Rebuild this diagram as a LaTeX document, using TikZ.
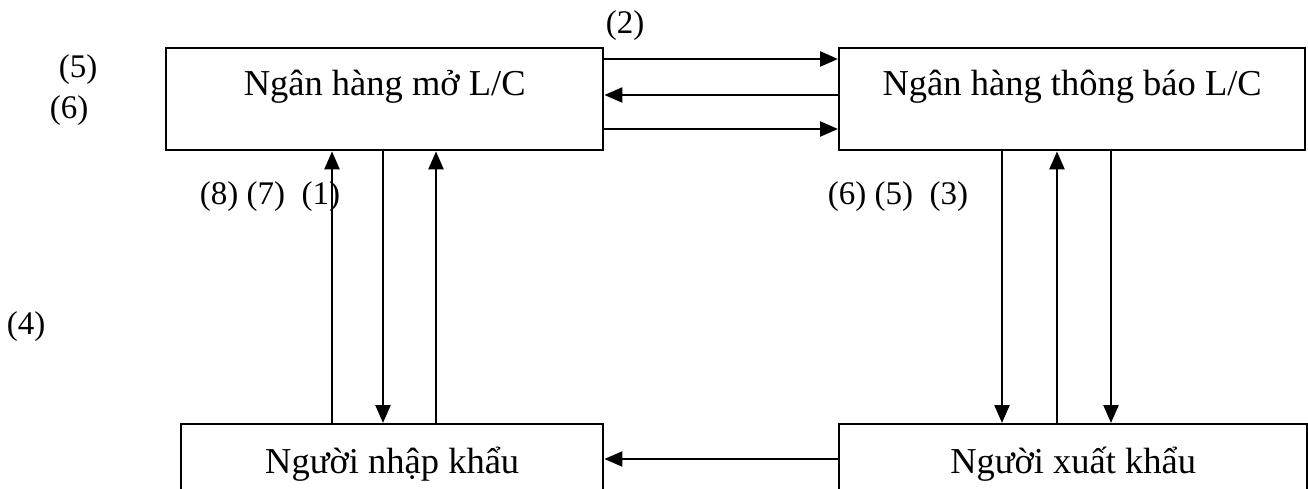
\documentclass[tikz,border=0pt]{standalone}
\usepackage{fontspec}
\setmainfont{Liberation Serif}
\usetikzlibrary{arrows.meta}
\begin{document}
\begin{tikzpicture}[x=1pt,y=-1pt,
  every node/.style={inner sep=0pt},
  box/.style={draw, line width=2.4pt, anchor=north west, font=\fontsize{36.5}{42}\selectfont},
  arr/.style={line width=2.4pt, -{Triangle[length=18pt,width=15pt]}},
  lbl/.style={anchor=center, font=\fontsize{33}{38}\selectfont}
]
\useasboundingbox (0,0) rectangle (1308,489);
\clip (0,0) rectangle (1308,489);

\node[box, minimum width=437pt, text height=47pt, text depth=55pt] (bankO) at (165,47) {Ngân hàng mở L/C};
\node[box, minimum width=466pt, text height=47pt, text depth=55pt] (bankA) at (838,47) {Ngân hàng thông báo L/C};
\node[box, minimum width=422pt, text height=49pt, text depth=60pt] (imp) at (180,423) {Người nhập khẩu};
\node[box, minimum width=468pt, text height=49pt, text depth=60pt] (exp) at (838,423) {Người xuất khẩu};

\coordinate (h1) at (0,59);
\coordinate (h2) at (0,95);
\coordinate (h3) at (0,129);
\coordinate (h4) at (0,459);
\coordinate (v1) at (332,0);
\coordinate (v2) at (383,0);
\coordinate (v3) at (436,0);
\coordinate (v4) at (1002,0);
\coordinate (v5) at (1057,0);
\coordinate (v6) at (1111,0);

\draw[arr] (bankO.east |- h1) -- (bankA.west |- h1);
\draw[arr] (bankA.west |- h2) -- (bankO.east |- h2);
\draw[arr] (bankO.east |- h3) -- (bankA.west |- h3);

\draw[arr] (imp.north -| v1) -- (bankO.south -| v1);
\draw[arr] (bankO.south -| v2) -- (imp.north -| v2);
\draw[arr] (imp.north -| v3) -- (bankO.south -| v3);

\draw[arr] (bankA.south -| v4) -- (exp.north -| v4);
\draw[arr] (exp.north -| v5) -- (bankA.south -| v5);
\draw[arr] (bankA.south -| v6) -- (exp.north -| v6);

\draw[arr] (exp.west |- h4) -- (imp.east |- h4);

\node[lbl] (l2) at (625,26) {(2)};
\node[lbl] (l5) at (78,70) {(5)};
\node[lbl] (l6) at (69,111) {(6)};
\node[lbl] (l871) at (270,197) {(8) (7)\ \ (1)};
\node[lbl] (l653) at (898,197) {(6) (5)\ \ (3)};
\node[lbl] (l4) at (26,327) {(4)};
\end{tikzpicture}
\end{document}
